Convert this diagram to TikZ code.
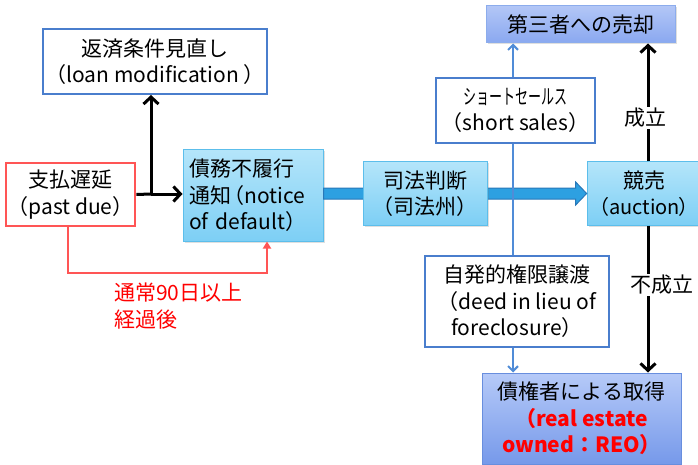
\documentclass[tikz,border=0pt]{standalone}
\usepackage{fontspec}
\setmainfont{Noto Sans CJK JP}
\usetikzlibrary{arrows.meta,shadows,calc}
\definecolor{bborder}{RGB}{74,126,205}
\definecolor{lbtop}{RGB}{180,229,250}
\definecolor{lbbot}{RGB}{125,207,245}
\definecolor{lbborder}{RGB}{92,190,235}
\definecolor{thtop}{RGB}{178,198,246}
\definecolor{thbot}{RGB}{138,168,240}
\definecolor{thborder}{RGB}{140,172,236}
\definecolor{retop}{RGB}{182,202,248}
\definecolor{rebot}{RGB}{118,153,234}
\definecolor{reborder}{RGB}{104,142,222}
\definecolor{pred}{RGB}{255,85,85}
\definecolor{tred}{RGB}{255,0,0}
\definecolor{arfill}{RGB}{45,160,225}
\definecolor{arborder}{RGB}{40,120,185}
\definecolor{blueline}{RGB}{80,140,215}
\begin{document}
\begin{tikzpicture}[x=1pt,y=-1pt,
  font=\fontsize{21}{26.5}\selectfont,
  wbox/.style={draw=bborder, line width=2pt, fill=white, align=center, inner sep=2pt},
  lbbox/.style={draw=lbborder, line width=1pt, top color=lbtop, bottom color=lbbot,
     drop shadow={shadow xshift=1.5pt, shadow yshift=-1.5pt, opacity=0.25}, inner sep=2pt},
  blk/.style={line width=3pt, -{Straight Barb[length=7pt,width=15pt,line width=3pt]}},
  bln/.style={draw=blueline, line width=2pt},
  blar/.style={bln, -{Straight Barb[length=5pt,width=10pt,line width=2pt]}},
  lbl/.style={fill=white, inner sep=1pt}]
\useasboundingbox (0,0) rectangle (698,465);

\node[wbox, minimum width=214pt, minimum height=65pt] (loan) at (155,61.5)
  {返済条件見直し\\（loan modification ）};
\node[draw=pred, line width=2pt, fill=white, align=center, minimum width=127pt, minimum height=63pt, inner sep=2pt] (past) at (70.5,194.5)
  {支払遅延\\（past due）};
\node[lbbox, minimum width=140pt, minimum height=91pt, text width=128pt, align=left] (def) at (253,195.5)
  {債務不履行\\通知\kern-0.35em（notice\\of default）};
\node[lbbox, minimum width=102pt, minimum height=63pt, align=center] (auc) at (644,193.5)
  {競売\\{\fontsize{20}{26.5}\selectfont（auction\kern-0.05em）}};
\node[draw=thborder, line width=1pt, top color=thtop, bottom color=thbot,
   drop shadow={shadow xshift=1.5pt, shadow yshift=-1.5pt, opacity=0.25},
   minimum width=189pt, minimum height=37pt] (third) at (580.5,24.5) {第三者への売却};
\node[wbox, minimum width=159pt, minimum height=65pt] (short) at (515.5,110.5)
  {\scalebox{0.62}[1]{ショートセールス}\\（short sales）};
\node[wbox, minimum width=184pt, minimum height=91pt] (deed) at (517,301.5)
  {自発的権限譲渡\\（deed in lieu of\\foreclosure）};
\node[draw=reborder, line width=1pt, top color=retop, bottom color=rebot, align=center,
   minimum width=199pt, minimum height=91pt, inner sep=2pt] (reo) at (581.5,418.5)
  {債権者による取得\\{\color{tred}\bfseries （real estate}\\{\color{tred}\bfseries owned：REO）}};

% thick blue arrow
\coordinate (ta) at (def.east |- auc.west);
\coordinate (tb) at (auc.west);
\filldraw[fill=arfill, draw=arborder, line width=1pt]
  ($(ta)+(0,-5.5)$) -- ($(tb)+(-11,-5.5)$) -- ($(tb)+(-11,-11.5)$) -- (tb)
  -- ($(tb)+(-11,11.5)$) -- ($(tb)+(-11,5.5)$) -- ($(ta)+(0,5.5)$) -- cycle;
\node[lbbox, minimum width=124pt, minimum height=63pt, align=center] (jud) at (425,193.5)
  {司法判断\\（司法州）};

% black arrows
\coordinate (br) at (151,194);
\draw[line width=3pt] (past.east) -- (br);
\draw[blk] (br) -- (def.west |- br);
\draw[blk] (br) -- (br |- loan.south);

% red connector
\coordinate (r1) at (68,273);
\coordinate (r2) at (267,273);
\draw[draw=pred, line width=2pt, -{Triangle[length=7pt,width=8pt]}]
  (r1 |- past.south) -- (r1) -- (r2) -- (r2 |- def.south);
\node[text=tred, align=left, anchor=north west, inner sep=0pt] (cond) at (114,283)
  {通常90日以上\\経過後};

% blue thin line
\coordinate (bx) at (513,0);
\draw[bln] (bx |- deed.north) -- (bx |- short.south);
\draw[blar] (bx |- short.north) -- (bx |- third.south);
\draw[blar] (bx |- deed.south) -- (bx |- reo.north);

% auction outcome arrows
\coordinate (ax) at (648,0);
\draw[blk] (ax |- auc.north) -- node[lbl, pos=0.37, xshift=-3pt] (ok) {成立} (ax |- third.south);
\draw[blk] (ax |- auc.south) -- node[lbl, pos=0.405, xshift=14pt] (ng) {不成立} (ax |- reo.north);
\end{tikzpicture}
\end{document}
